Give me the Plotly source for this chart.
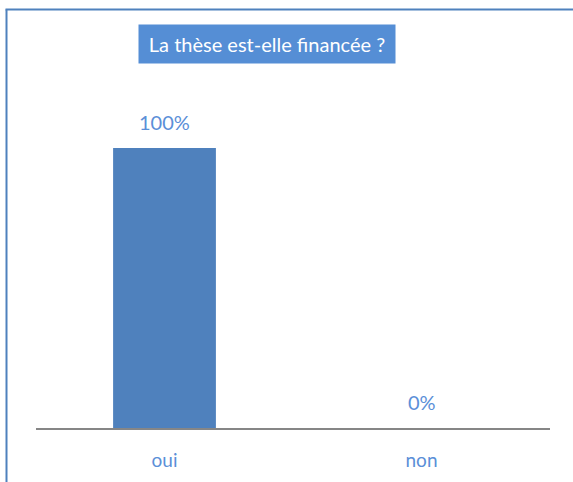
import plotly.graph_objects as go

categories = ["oui", "non"]
values = [1.0, 0.0]
labels = ["100%", "0%"]
title_text = "La thèse est-elle financée ?"

W, H = 573, 482
L, R, T, B = 36, 23, 60, 54
pw, ph = W - L - R, H - T - B

def px_x(x):
    return (x - L) / pw

def px_y(y):
    return (H - B - y) / ph

FONT = "Lato, 'Open Sans', sans-serif"
LBL = "#5B8FD8"

fig = go.Figure()
fig.add_trace(go.Bar(x=categories, y=values, marker_color="#4F81BD",
                     marker_line_width=0, width=0.4, hoverinfo="skip"))

for c, v, t in zip(categories, values, labels):
    fig.add_annotation(x=c, y=v, text=t, showarrow=False, yanchor="bottom",
                       yshift=12, font=dict(family=FONT, size=20, color=LBL))

fig.add_annotation(xref="paper", yref="paper", x=px_x(267), y=px_y(44),
                   text=title_text, showarrow=False, xanchor="center", yanchor="middle",
                   bgcolor="#558ED5", font=dict(family=FONT, size=20, color="white"),
                   borderpad=6, width=244, height=26)

# outer chart border (left and top)
fig.add_shape(type="line", xref="paper", yref="paper", x0=px_x(6.5), x1=px_x(6.5),
              y0=px_y(9.5), y1=px_y(490), line=dict(color="#4F81BD", width=2))
fig.add_shape(type="line", xref="paper", yref="paper", x0=px_x(5.5), x1=px_x(580),
              y0=px_y(9.5), y1=px_y(9.5), line=dict(color="#4F81BD", width=2))

fig.update_layout(
    width=W, height=H, margin=dict(l=L, r=R, t=T, b=B, autoexpand=False),
    paper_bgcolor="white", plot_bgcolor="white", showlegend=False,
    bargap=0.6,
    xaxis=dict(showline=True, linecolor="#868686", linewidth=2, ticks="",
               automargin=False,
               ticklabelstandoff=14, tickfont=dict(family=FONT, size=19, color=LBL),
               showgrid=False, fixedrange=True),
    yaxis=dict(range=[0, ph / 280], visible=False, showgrid=False, zeroline=False,
               automargin=False, fixedrange=True),
)

fig.write_html("out.html", config={"displayModeBar": False},
               post_script="document.body.style.margin='0';")
